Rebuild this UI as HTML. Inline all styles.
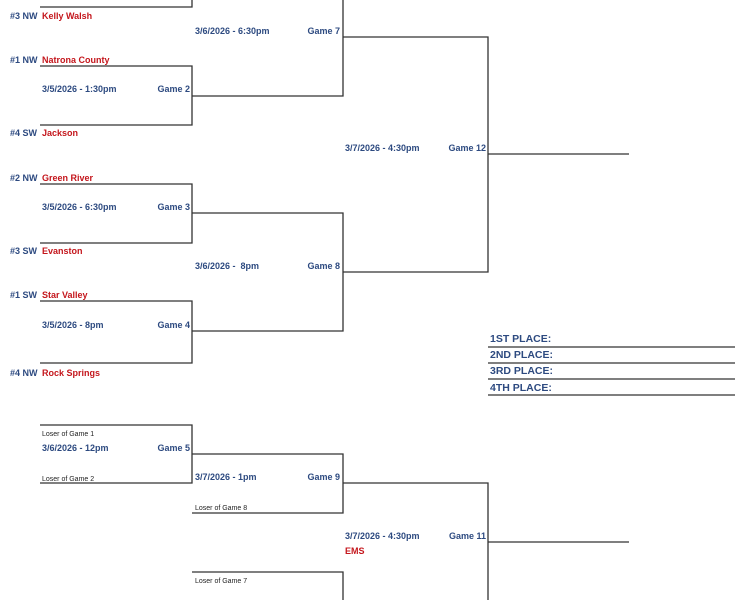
<!DOCTYPE html>
<html><head><meta charset="utf-8"><style>
html,body{margin:0;padding:0;background:#fff;width:748px;height:600px;overflow:hidden}
svg{display:block}
text{font-family:"Liberation Sans",Arial,sans-serif;font-weight:bold;font-size:9px}
.b{fill:#2d4a80}.r{fill:#c4161c}.s{font-weight:normal;font-size:7px;fill:#222}
.p{font-size:10.5px;fill:#2d4a80}
</style></head><body>
<svg width="748" height="600" viewBox="0 0 748 600" xmlns="http://www.w3.org/2000/svg">
<g fill="none" stroke="#333" stroke-width="1.3">
<polyline points="40,7 192,7 192,0"/>
<polyline points="40,66 192,66 192,125 40,125"/>
<polyline points="192,96 343,96 343,0"/>
<polyline points="343,37 488,37 488,272 343,272"/>
<line x1="488" y1="154" x2="629" y2="154"/>
<polyline points="40,184 192,184 192,243 40,243"/>
<polyline points="192,213 343,213 343,331 192,331"/>
<polyline points="40,301 192,301 192,363 40,363"/>
<polyline points="40,425 192,425 192,483 40,483"/>
<polyline points="192,454 343,454 343,513 192,513"/>
<polyline points="343,483 488,483 488,600"/>
<line x1="488" y1="542" x2="629" y2="542"/>
<polyline points="192,572 343,572 343,600"/>
<line x1="488" y1="347" x2="735" y2="347"/>
<line x1="488" y1="363" x2="735" y2="363"/>
<line x1="488" y1="379" x2="735" y2="379"/>
<line x1="488" y1="395" x2="735" y2="395"/>
</g>
<text x="10" y="19" class="b">#3 NW</text><text x="42" y="19" class="r">Kelly Walsh</text>
<text x="195" y="34" class="b">3/6/2026 - 6:30pm</text><text x="340" y="34" class="b" text-anchor="end">Game 7</text>
<text x="10" y="63" class="b">#1 NW</text><text x="42" y="63" class="r">Natrona County</text>
<text x="42" y="92" class="b">3/5/2026 - 1:30pm</text><text x="190" y="92" class="b" text-anchor="end">Game 2</text>
<text x="10" y="136" class="b">#4 SW</text><text x="42" y="136" class="r">Jackson</text>
<text x="345" y="151" class="b">3/7/2026 - 4:30pm</text><text x="486" y="151" class="b" text-anchor="end">Game 12</text>
<text x="10" y="181" class="b">#2 NW</text><text x="42" y="181" class="r">Green River</text>
<text x="42" y="210" class="b">3/5/2026 - 6:30pm</text><text x="190" y="210" class="b" text-anchor="end">Game 3</text>
<text x="10" y="254" class="b">#3 SW</text><text x="42" y="254" class="r">Evanston</text>
<text x="195" y="269" class="b" xml:space="preserve">3/6/2026 -  8pm</text><text x="340" y="269" class="b" text-anchor="end">Game 8</text>
<text x="10" y="298" class="b">#1 SW</text><text x="42" y="298" class="r">Star Valley</text>
<text x="42" y="328" class="b">3/5/2026 - 8pm</text><text x="190" y="328" class="b" text-anchor="end">Game 4</text>
<text x="10" y="376" class="b">#4 NW</text><text x="42" y="376" class="r">Rock Springs</text>
<text x="490" y="342" class="p">1ST PLACE:</text>
<text x="490" y="358" class="p">2ND PLACE:</text>
<text x="490" y="374" class="p">3RD PLACE:</text>
<text x="490" y="391" class="p">4TH PLACE:</text>
<text x="42" y="436" class="s">Loser of Game 1</text>
<text x="42" y="451" class="b">3/6/2026 - 12pm</text><text x="190" y="451" class="b" text-anchor="end">Game 5</text>
<text x="42" y="481" class="s">Loser of Game 2</text>
<text x="195" y="480" class="b">3/7/2026 - 1pm</text><text x="340" y="480" class="b" text-anchor="end">Game 9</text>
<text x="195" y="510" class="s">Loser of Game 8</text>
<text x="345" y="539" class="b">3/7/2026 - 4:30pm</text><text x="486" y="539" class="b" text-anchor="end">Game 11</text>
<text x="345" y="554" class="r">EMS</text>
<text x="195" y="583" class="s">Loser of Game 7</text>
</svg>
</body></html>
